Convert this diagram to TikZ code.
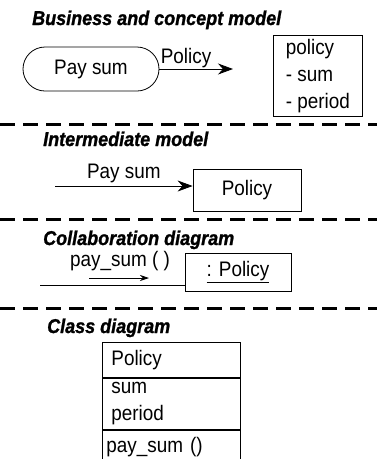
\documentclass[tikz,border=0pt]{standalone}
\usepackage{fontspec}
\setmainfont{Liberation Sans}[FakeStretch=0.9]
\newfontfamily\titlefont{Liberation Sans}[FakeStretch=0.9,FakeBold=1.2]
\usetikzlibrary{arrows.meta,positioning}

\tikzset{
  sectitle/.style={anchor=base west,inner sep=0pt,font=\titlefont\fontsize{20}{22}\selectfont\bfseries\itshape},
  plain/.style={font=\fontsize{21}{27}\selectfont},
  divider/.style={line width=3pt,dash pattern=on 15pt off 8pt},
  box/.style={draw,line width=0.8pt},
  flow/.style={line width=0.8pt,-{Stealth[length=15pt,width=11pt]}},
  msgflow/.style={line width=0.8pt,-{Stealth[length=9pt,width=6pt]}}
}

\begin{document}
\begin{tikzpicture}[x=1pt,y=-1pt]
    \useasboundingbox (0,0) rectangle (377,459);

    % business and concept model
    \node[sectitle] (t1) at (32,25) {Business and concept model};
    \node[box,plain,rounded corners=22pt,minimum width=136,minimum height=44] (paysum) at (91,69) {Pay sum};
    \coordinate (p1end) at (233,69);
    \draw[flow] (paysum.east) -- node[above right,pos=0,inner sep=1pt,plain] {Policy} (p1end);
    \node[box,plain,anchor=north west,align=left,minimum width=89,minimum height=81] (attrs) at (273,35) {policy\\- sum\\- period};
    \draw[divider] (0,124) -- (377,124);

    % intermediate model
    \node[sectitle] (t2) at (43,146) {Intermediate model};
    \node[box,plain,minimum width=108,minimum height=42] (polbox) at (247,190) {Policy};
    \coordinate (p2start) at (55,186);
    \draw[flow] (p2start) -- node[above,inner sep=3pt,plain] {Pay sum} (polbox.west |- p2start);
    \draw[divider] (0,219) -- (377,219);

    % collaboration diagram
    \node[sectitle] (t3) at (43,245) {Collaboration diagram};
    \node[box,plain,minimum width=106,minimum height=38] (colbox) at (238,272) {\underline{: Policy}};
    \coordinate (c3start) at (40,285);
    \draw[line width=0.8pt] (c3start) -- (colbox.west |- c3start);
    \node[plain,anchor=base west,inner sep=0pt] (msg) at (70,266) {pay\_sum ( )};
    \coordinate (m1) at (89,278);
    \coordinate (m2) at (149,278);
    \draw[msgflow] (m1) -- (m2);
    \draw[divider] (0,308) -- (377,308);

    % class diagram
    \node[sectitle] (t4) at (47,333) {Class diagram};
    \node[box,plain,anchor=north west,align=left,text width=120,inner xsep=9pt,minimum height=35] (clsname) at (102,342) {Policy};
    \node[box,plain,anchor=north,align=left,text width=120,inner xsep=9pt,minimum height=51] (clsattr) at (clsname.south) {sum\\period};
    \node[box,plain,anchor=north,align=left,text width=130,inner xsep=4pt,minimum height=35] (clsops) at (clsattr.south) {pay\_sum ()};
\end{tikzpicture}
\end{document}
